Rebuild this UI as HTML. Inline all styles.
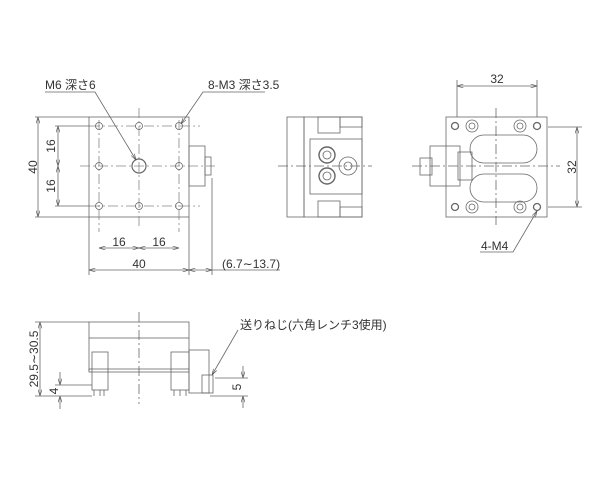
<!DOCTYPE html><html><head><meta charset="utf-8"><style>body{margin:0;background:#fff}svg{display:block}text{font-family:"Liberation Sans","Noto Sans CJK JP",sans-serif;font-size:12px;fill:#333}</style></head><body>
<svg width="600" height="491" viewBox="0 0 600 491" xmlns="http://www.w3.org/2000/svg">
<defs><marker id="a" viewBox="0 0 10 6" refX="10" refY="3" markerWidth="8" markerHeight="5" orient="auto-start-reverse"><path d="M0,0L10,3L0,6" fill="none" stroke="#555" stroke-width="1"/></marker></defs>
<g fill="none" stroke="#666" stroke-width="0.8">
<rect x="89" y="117" width="100" height="100"/>
<g stroke-dasharray="10,3,2,3" stroke="#888"><path d="M80 166H215M139 108V226M99 120V232M179 120V232M90 126H200M90 206H200"/></g>
<g><circle cx="99" cy="126" r="3.5"/><circle cx="139" cy="126" r="3.5"/><circle cx="179" cy="126" r="3.5"/><circle cx="99" cy="166" r="3.5"/><circle cx="179" cy="166" r="3.5"/><circle cx="99" cy="206" r="3.5"/><circle cx="139" cy="206" r="3.5"/><circle cx="179" cy="206" r="3.5"/></g>
<circle cx="139" cy="166" r="7" stroke-width="1.2"/>
<rect x="189" y="146" width="16" height="40"/><rect x="205" y="157" width="6" height="18"/>
<path d="M35 117H89M35 217H89M55 126H90M55 206H90M89 217V275M189 217V275M212 178V275"/>
<path d="M38 117V217" marker-start="url(#a)" marker-end="url(#a)"/>
<path d="M58 126V166" marker-start="url(#a)" marker-end="url(#a)"/><path d="M58 166V206" marker-start="url(#a)" marker-end="url(#a)"/>
<path d="M99 248H139" marker-start="url(#a)" marker-end="url(#a)"/><path d="M139 248H179" marker-start="url(#a)" marker-end="url(#a)"/>
<path d="M89 270H189" marker-start="url(#a)" marker-end="url(#a)"/><path d="M189 270H212" marker-start="url(#a)" marker-end="url(#a)"/><path d="M212 270H280"/>
<path d="M45 92H95L136 160" marker-end="url(#a)"/><path d="M265 92H203L181 124" marker-end="url(#a)"/>
<rect x="287" y="117" width="17" height="100"/><rect x="304" y="117" width="58" height="100"/>
<rect x="318" y="117" width="22" height="16"/><rect x="340" y="117" width="22" height="10"/>
<rect x="318" y="201" width="22" height="16"/><rect x="340" y="207" width="22" height="10"/>
<rect x="310" y="139" width="52" height="55"/>
<circle cx="327" cy="155" r="8" stroke-width="1.4"/><circle cx="327" cy="155" r="4"/>
<circle cx="327" cy="176" r="8" stroke-width="1.4"/><circle cx="327" cy="176" r="4"/>
<circle cx="348" cy="166" r="9"/><circle cx="348" cy="166" r="4"/>
<path d="M278 166H372" stroke-dasharray="10,3,2,3"/>
<rect x="446" y="117" width="101" height="100"/>
<rect x="470" y="135" width="67" height="28" rx="14"/><rect x="470" y="174" width="67" height="28" rx="14"/>
<rect x="430" y="146" width="30" height="40"/><rect x="420" y="158" width="12" height="17"/><rect x="458" y="152" width="14" height="28"/>
<g stroke-width="1.3"><circle cx="455" cy="126" r="3.5"/><circle cx="537" cy="126" r="3.5"/><circle cx="455" cy="207" r="3.5"/><circle cx="537" cy="207" r="3.5"/></g>
<circle cx="472" cy="126" r="6"/><circle cx="472" cy="126" r="3"/><circle cx="520" cy="126" r="6"/><circle cx="520" cy="126" r="3"/>
<circle cx="472" cy="207" r="6"/><circle cx="472" cy="207" r="3"/><circle cx="520" cy="207" r="6"/><circle cx="520" cy="207" r="3"/>
<path d="M412 166H560M496 108V225" stroke-dasharray="10,3,2,3"/>
<path d="M457 80V117M537 80V117M548 127H582M548 207H582"/>
<path d="M457 86H537" marker-start="url(#a)" marker-end="url(#a)"/>
<path d="M577 127V207" marker-start="url(#a)" marker-end="url(#a)"/>
<path d="M480 252H513L537 211" marker-end="url(#a)"/>
<rect x="89" y="322" width="100" height="16"/><path d="M89 338V371M189 338V371"/>
<rect x="89" y="369" width="100" height="3"/>
<rect x="92" y="352" width="16" height="38"/><rect x="171" y="352" width="18" height="38"/>
<rect x="189" y="350" width="20" height="43"/><rect x="202" y="375" width="11" height="18"/>
<path d="M94 390V396M100 390V396M104 390V396M174 390V396M180 390V396M186 390V396"/>
<path d="M139 312V404" stroke-dasharray="10,3,2,3"/>
<path d="M35 322H89M35 396H92M55 385H92M215 378H248M210 396H248"/>
<path d="M40 322V396" marker-start="url(#a)" marker-end="url(#a)"/>
<path d="M60 372V385" marker-end="url(#a)"/><path d="M60 409V396" marker-end="url(#a)"/>
<path d="M243 366V378" marker-end="url(#a)"/><path d="M243 408V396" marker-end="url(#a)"/>
<path d="M238 330L212 375" marker-end="url(#a)"/>
</g>
<text x="45" y="89">M6 深さ6</text><text x="208" y="89">8-M3 深さ3.5</text>
<text x="37" y="167" transform="rotate(-90 37 167)" text-anchor="middle">40</text>
<text x="55" y="146" transform="rotate(-90 55 146)" text-anchor="middle">16</text>
<text x="55" y="186" transform="rotate(-90 55 186)" text-anchor="middle">16</text>
<text x="119" y="246" text-anchor="middle">16</text><text x="159" y="246" text-anchor="middle">16</text>
<text x="139" y="268" text-anchor="middle">40</text><text x="222" y="268">(6.7∼13.7)</text>
<text x="497" y="83" text-anchor="middle">32</text>
<text x="576" y="167" transform="rotate(-90 576 167)" text-anchor="middle">32</text>
<text x="481" y="250">4-M4</text>
<text x="240" y="329">送りねじ(六角レンチ3使用)</text>
<text x="38" y="359" transform="rotate(-90 38 359)" text-anchor="middle">29.5∼30.5</text>
<text x="58" y="391" transform="rotate(-90 58 391)" text-anchor="middle">4</text>
<text x="241" y="387" transform="rotate(-90 241 387)" text-anchor="middle">5</text>
</svg></body></html>
